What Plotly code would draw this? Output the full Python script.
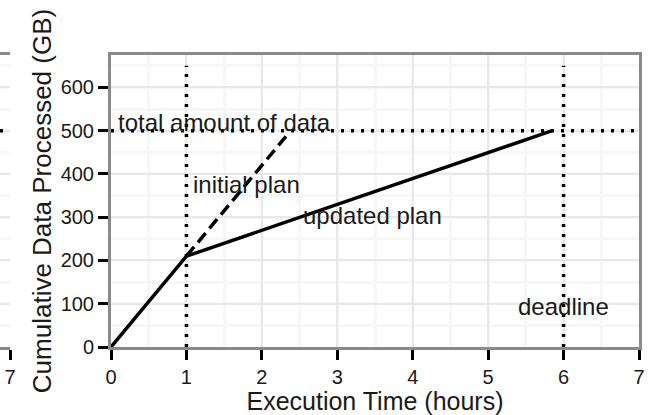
import plotly.graph_objects as go

# ---- data ----
plan_initial_x = [1, 2.32]
plan_initial_y = [210, 487]
plan_updated_x = [0, 1, 5.85]
plan_updated_y = [0, 210, 500]
total_data_gb = 500
replan_time = 1
deadline_time = 6
marker_top = 650
x_ticks = [0, 1, 2, 3, 4, 5, 6, 7]
y_ticks = [0, 100, 200, 300, 400, 500, 600]
labels = {
    "total": ("total amount of data", 1.5, 518),
    "initial": ("initial plan", 1.79, 376),
    "updated": ("updated plan", 3.47, 303),
    "deadline": ("deadline", 6.0, 94),
}

FONT = "Liberation Sans, Arial, sans-serif"
W, H = 652, 415
frame = "#8a8a8a"
grid_major = "#e8e8e8"
grid_minor = "#f7f7f7"
dot = "3px,7px"

fig = go.Figure()

def add_refs(xa, ya):
    fig.add_trace(go.Scatter(x=[0, 7], y=[total_data_gb, total_data_gb], mode="lines",
                             line=dict(color="black", width=3.5, dash=dot),
                             xaxis=xa, yaxis=ya, showlegend=False, hoverinfo="skip"))

# main panel
add_refs("x", "y")
for t in (replan_time, deadline_time):
    fig.add_trace(go.Scatter(x=[t, t], y=[0, marker_top], mode="lines",
                             line=dict(color="black", width=3.5, dash=dot),
                             showlegend=False, hoverinfo="skip"))
fig.add_trace(go.Scatter(x=plan_initial_x, y=plan_initial_y, mode="lines",
                         line=dict(color="black", width=3.5, dash="12px,6px"),
                         showlegend=False, name="initial plan"))
fig.add_trace(go.Scatter(x=plan_updated_x, y=plan_updated_y, mode="lines",
                         line=dict(color="black", width=3.5),
                         showlegend=False, name="updated plan"))

# fragment of neighbouring panel on the left
add_refs("x2", "y2")

xdom = [111 / W, 639 / W]
ydom = [(H - 347) / H, (H - 55) / H]

axis_common = dict(
    showline=True, linecolor=frame, linewidth=3, mirror=True,
    ticks="outside", ticklen=10, tickwidth=3, tickcolor="black",
    showgrid=True, gridcolor=grid_major, gridwidth=1.5,
    zeroline=False, automargin=False,
    tickfont=dict(family=FONT, size=20, color="#1a1a1a"),
)

fig.update_layout(
    width=W, height=H,
    margin=dict(l=0, r=0, t=0, b=0, autoexpand=False),
    plot_bgcolor="white", paper_bgcolor="white",
    font=dict(family=FONT, color="#1a1a1a"),
    xaxis=dict(axis_common, domain=xdom, range=[0, 7], tickvals=x_ticks,
               minor=dict(dtick=0.5, showgrid=True, gridcolor=grid_minor, gridwidth=3, ticks=""),
               title=dict(text="Execution Time (hours)", font=dict(family=FONT, size=25), standoff=6),
               anchor="y"),
    yaxis=dict(axis_common, domain=ydom, range=[0, 675], tickvals=y_ticks,
               minor=dict(dtick=50, showgrid=True, gridcolor=grid_minor, gridwidth=3, ticks=""),
               title=dict(text="Cumulative Data Processed (GB)", font=dict(family=FONT, size=26), standoff=2),
               anchor="x"),
    xaxis2=dict(axis_common, domain=[0, 10 / W], range=[7 - 10 / 75.43, 7], tickvals=[7],
                minor=dict(dtick=0.5, showgrid=True, gridcolor=grid_minor, gridwidth=3, ticks=""),
                anchor="y2"),
    yaxis2=dict(axis_common, domain=ydom, range=[0, 675], tickvals=y_ticks, showticklabels=False,
                ticks="", showline=False,
                minor=dict(dtick=50, showgrid=True, gridcolor=grid_minor, gridwidth=3, ticks=""),
                anchor="x2"),
)

for text, x, y in labels.values():
    fig.add_annotation(x=x, y=y, xref="x", yref="y", text=text, showarrow=False,
                       font=dict(family=FONT, size=24, color="#1a1a1a"))

fig.write_html("out.html", config={"displayModeBar": False},
               post_script="document.body.style.margin='0';document.body.style.overflow='hidden';")
